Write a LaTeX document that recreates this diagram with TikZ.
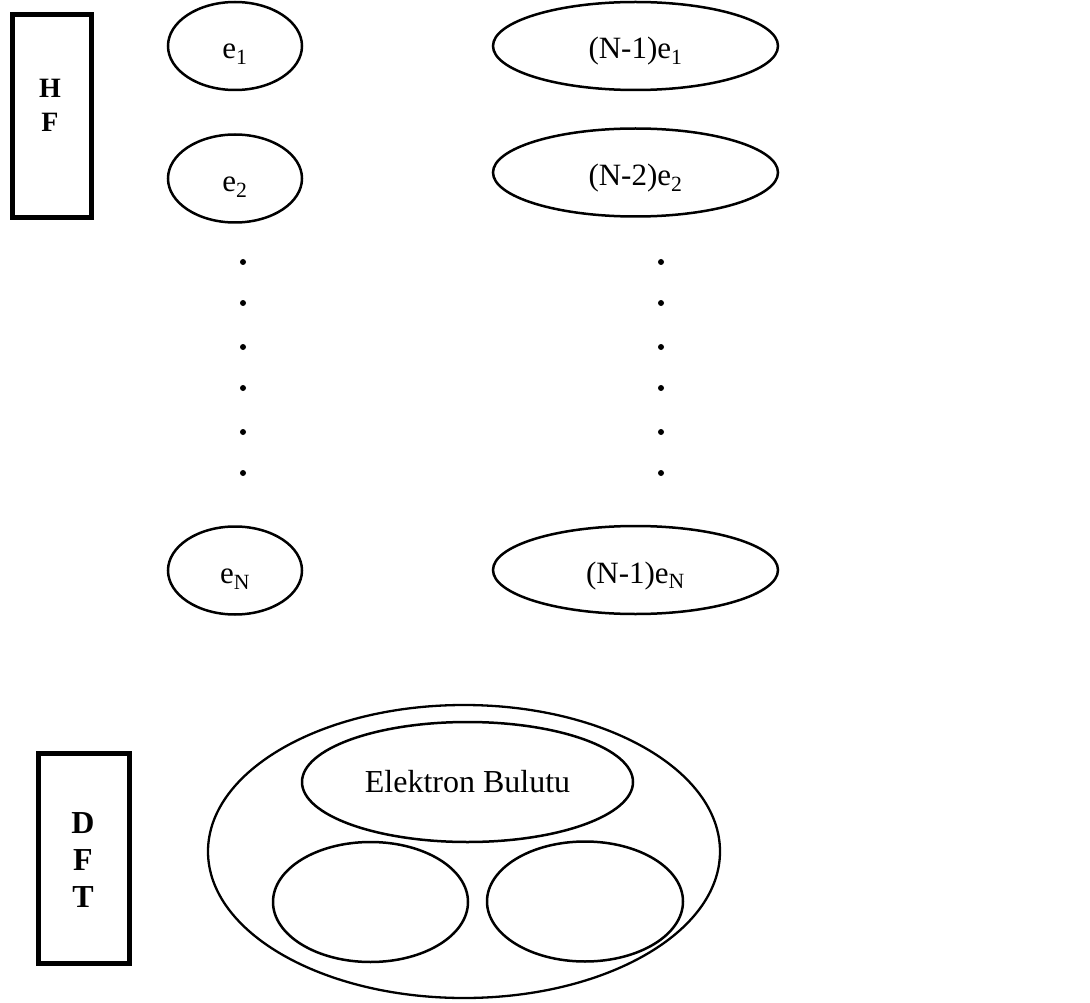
\documentclass[tikz,border=0pt]{standalone}
\usepackage{fontspec}
\setmainfont{Liberation Serif}
\usetikzlibrary{shapes.geometric}
\begin{document}
\begin{tikzpicture}[x=1pt,y=-1pt,
  oval/.style={draw,ellipse,line width=2.5pt,inner sep=0pt,font=\fontsize{31}{36}\selectfont},
  eoval/.style={oval,text height=31pt,text depth=5pt},
  smallov/.style={eoval,minimum width=134,minimum height=88},
  wideov/.style={eoval,minimum width=285,minimum height=88},
  tagbox/.style={draw,line width=5pt,rectangle,inner sep=0pt},
  tagtext/.style={align=center,inner sep=0pt},
  dotmark/.style={fill=black,circle,inner sep=0pt,minimum size=6}
]
\useasboundingbox (0,0) rectangle (1090,1003);

% HF block
\node[tagbox,minimum width=79,minimum height=203] (hf) at (51.5,116.5) {};
\node[tagtext,font=\fontsize{28}{34}\bfseries\selectfont] (hftext) at (50,105) {H\\F};

% left column
\node[smallov] (e1) at (235,46) {e\textsubscript{1}};
\node[smallov] (e2) at (235,178.5) {e\textsubscript{2}};
\node[smallov] (eN) at (235,570.5) {e\textsubscript{N}};

% right column
\node[wideov] (r1) at (635.5,46) {(N-1)e\textsubscript{1}};
\node[wideov] (r2) at (635.5,172.5) {(N-2)e\textsubscript{2}};
\node[wideov] (rN) at (635.5,570) {(N-1)e\textsubscript{N}};

% dots
\foreach \yy [count=\i] in {262,303,347,388,432,473}{
  \node[dotmark] (ld\i) at (243,\yy) {};
  \node[dotmark] (rd\i) at (661,\yy) {};
}

% DFT block
\node[tagbox,minimum width=91,minimum height=210] (dft) at (83.5,858) {};
\node[tagtext,font=\fontsize{32}{37}\bfseries\selectfont] (dfttext) at (83,860) {D\\F\\T};

% electron cloud
\node[draw,ellipse,line width=2.3pt,inner sep=0pt,minimum width=512,minimum height=293] (outer) at (464,851.5) {};
\node[oval,font=\fontsize{32}{38}\selectfont,minimum width=331,minimum height=120] (cloud) at (467.5,782) {Elektron Bulutu};
\node[oval,minimum width=195,minimum height=120] (inl) at (370.5,902) {};
\node[oval,minimum width=196,minimum height=120] (inr) at (585,901.5) {};
\end{tikzpicture}
\end{document}
